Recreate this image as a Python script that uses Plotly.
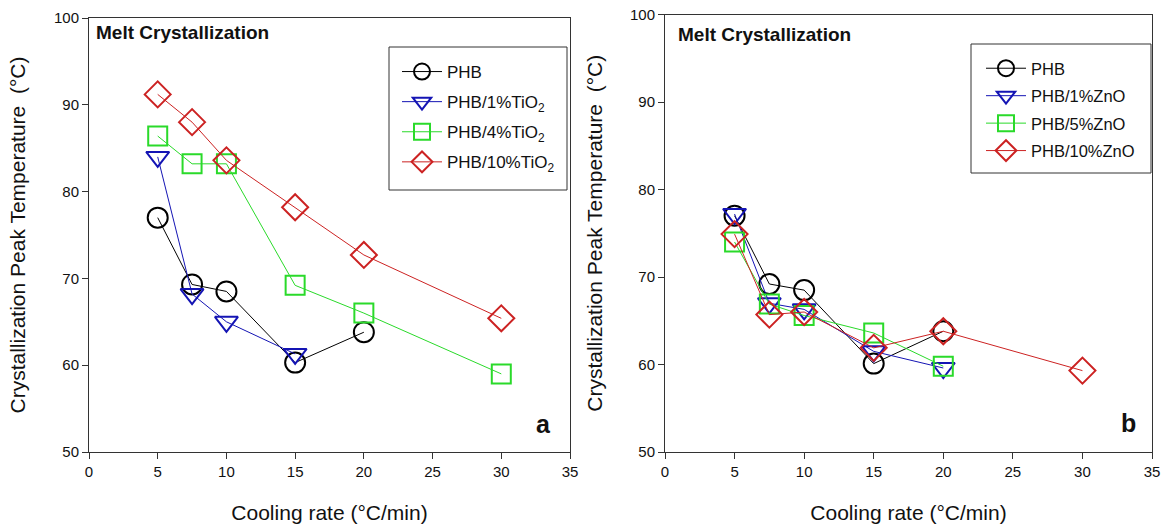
import plotly.graph_objects as go

# ---- data ----
rate_a = [5, 7.5, 10, 15, 20, 30]
phb_a = [77.0, 69.3, 68.5, 60.3, 63.8]
tio2_1 = [84.0, 68.2, 65.0, 61.3]
tio2_4 = [86.4, 83.2, 83.2, 69.2, 66.0, 59.0]
tio2_10 = [91.2, 88.0, 83.6, 78.2, 72.7, 65.4]

rate_b = [5, 7.5, 10, 15, 20, 30]
phb_b = [77.0, 69.2, 68.5, 60.1, 63.8]
zno_1 = [77.2, 67.0, 66.3, 61.5, 59.6]
zno_5 = [74.0, 66.9, 65.6, 63.6, 59.8]
zno_10 = [74.9, 65.7, 66.0, 61.9, 63.8, 59.3]

names_a = ["PHB", "PHB/1%TiO<sub>2</sub>", "PHB/4%TiO<sub>2</sub>", "PHB/10%TiO<sub>2</sub>"]
names_b = ["PHB", "PHB/1%ZnO", "PHB/5%ZnO", "PHB/10%ZnO"]

x_ticks = [0, 5, 10, 15, 20, 25, 30, 35]
y_ticks = [50, 60, 70, 80, 90, 100]

colors = ["#000000", "#1414B4", "#2ADA2A", "#CC2222"]
symbols = ["circle-open", "triangle-down-open", "square-open", "diamond-open"]
sizes = [20, 20, 19, 20]

FONT = "Liberation Sans, Arial, sans-serif"

fig = go.Figure()

series_a = [phb_a, tio2_1, tio2_4, tio2_10]
series_b = [phb_b, zno_1, zno_5, zno_10]

for i, ys in enumerate(series_a):
    fig.add_trace(go.Scatter(
        x=rate_a[:len(ys)], y=ys, name=names_a[i], mode="lines+markers",
        xaxis="x", yaxis="y", legend="legend", legendgroup="a%d" % i,
        line=dict(color=colors[i], width=1),
        marker=dict(symbol=symbols[i], size=sizes[i], color=colors[i],
                    line=dict(width=2, color=colors[i])),
    ))
for i, ys in enumerate(series_b):
    fig.add_trace(go.Scatter(
        x=rate_b[:len(ys)], y=ys, name=names_b[i], mode="lines+markers",
        xaxis="x2", yaxis="y2", legend="legend2", legendgroup="b%d" % i,
        line=dict(color=colors[i], width=1),
        marker=dict(symbol=symbols[i], size=sizes[i], color=colors[i],
                    line=dict(width=2, color=colors[i])),
    ))

W, H = 1166, 525
OFF = 0  # body margin removed by the post script


def px_x(p):
    return (p - OFF) / W


def px_y(p):
    return 1 - (p - OFF) / H


axis_common = dict(
    showline=True, mirror=True, linecolor="#333333", linewidth=1,
    ticks="outside", ticklen=6, tickcolor="#333333", showgrid=False,
    zeroline=False, automargin=False, ticklabeloverflow="allow",
    tickfont=dict(family=FONT, size=15, color="#111111"),
)

TITLE_FONT = dict(family=FONT, size=21, color="#111111")
Y_TITLE = "Crystallization Peak Temperature\u00a0\u00a0(°C)"
X_TITLE = "Cooling rate (°C/min)"

fig.update_layout(
    width=W, height=H,
    margin=dict(l=0, r=0, t=0, b=0),
    paper_bgcolor="white", plot_bgcolor="white",
    font=dict(family=FONT, color="#111111"),
    xaxis=dict(domain=[px_x(89), px_x(570)], range=[0, 35], tickvals=x_ticks,
               anchor="y",
               title=dict(text=X_TITLE, font=TITLE_FONT, standoff=26),
               **axis_common),
    yaxis=dict(domain=[px_y(452), px_y(18)], range=[50, 100], tickvals=y_ticks,
               anchor="x",
               title=dict(text=Y_TITLE, font=TITLE_FONT, standoff=22),
               **axis_common),
    xaxis2=dict(domain=[px_x(665), px_x(1152)], range=[0, 35], tickvals=x_ticks,
                anchor="y2",
                title=dict(text=X_TITLE, font=TITLE_FONT, standoff=26),
                **axis_common),
    yaxis2=dict(domain=[px_y(452), px_y(14.5)], range=[50, 100], tickvals=y_ticks,
                anchor="x2",
                title=dict(text=Y_TITLE, font=TITLE_FONT, standoff=21),
                **axis_common),
    legend=dict(x=px_x(397), y=px_y(54), xanchor="left", yanchor="top",
                borderwidth=0, bgcolor="rgba(0,0,0,0)",
                font=dict(family=FONT, size=17, color="#111111"),
                tracegroupgap=5, itemwidth=40),
    legend2=dict(x=px_x(981), y=px_y(51), xanchor="left", yanchor="top",
                 borderwidth=0, bgcolor="rgba(0,0,0,0)",
                 font=dict(family=FONT, size=16.5, color="#111111"),
                 tracegroupgap=3, itemwidth=40),
    showlegend=True,
)

# legend frames
fig.add_shape(type="rect", xref="paper", yref="paper", layer="above",
              x0=px_x(389), x1=px_x(567), y0=px_y(190), y1=px_y(47),
              line=dict(color="#333333", width=1), fillcolor="white")
fig.add_shape(type="rect", xref="paper", yref="paper", layer="above",
              x0=px_x(971), x1=px_x(1151), y0=px_y(173), y1=px_y(44),
              line=dict(color="#333333", width=1), fillcolor="white")

fig.add_annotation(text="<b>Melt Crystallization</b>", x=px_x(94), y=px_y(33),
                   xref="paper", yref="paper", xanchor="left", yanchor="middle",
                   showarrow=False, font=dict(family=FONT, size=19, color="#111111"))
fig.add_annotation(text="<b>Melt Crystallization</b>", x=px_x(676), y=px_y(34),
                   xref="paper", yref="paper", xanchor="left", yanchor="middle",
                   showarrow=False, font=dict(family=FONT, size=19, color="#111111"))
fig.add_annotation(text="<b>a</b>", x=px_x(543), y=px_y(424),
                   xref="paper", yref="paper", xanchor="center", yanchor="middle",
                   showarrow=False, font=dict(family=FONT, size=25, color="#111111"))
fig.add_annotation(text="<b>b</b>", x=px_x(1128), y=px_y(423),
                   xref="paper", yref="paper", xanchor="center", yanchor="middle",
                   showarrow=False, font=dict(family=FONT, size=25, color="#111111"))

fig.write_html("out.html",
               config={"displayModeBar": False},
               post_script="document.body.style.margin='0';document.body.style.padding='0';")
